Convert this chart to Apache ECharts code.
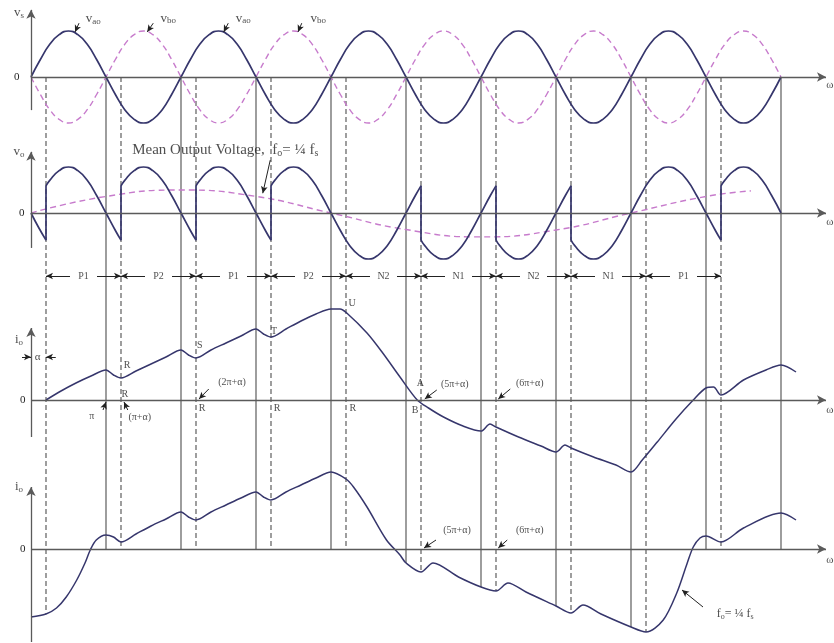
<!DOCTYPE html>
<html>
<head>
<meta charset="utf-8">
<script src="https://cdn.jsdelivr.net/npm/echarts@6/dist/echarts.min.js"></script>
<style>
  html, body { margin: 0; padding: 0; background: #fff; }
  #chart { width: 834px; height: 643px; }
</style>
</head>
<body>
<div id="chart"></div>
<script>
// ---------------------------------------------------------------
// Cycloconverter (single-phase, 4:1 step-down) waveforms.
// All abscissae are ωt expressed in units of π.
// ---------------------------------------------------------------

// supply voltages v_ao and v_bo, sampled every π/8 (normalised to Vm)
const phaseX = [0,0.125,0.25,0.375,0.5,0.625,0.75,0.875,1,1.125,1.25,1.375,1.5,1.625,1.75,1.875,
                2,2.125,2.25,2.375,2.5,2.625,2.75,2.875,3,3.125,3.25,3.375,3.5,3.625,3.75,3.875,
                4,4.125,4.25,4.375,4.5,4.625,4.75,4.875,5,5.125,5.25,5.375,5.5,5.625,5.75,5.875,
                6,6.125,6.25,6.375,6.5,6.625,6.75,6.875,7,7.125,7.25,7.375,7.5,7.625,7.75,7.875,
                8,8.125,8.25,8.375,8.5,8.625,8.75,8.875,9,9.125,9.25,9.375,9.5,9.625,9.75,9.875,10];
const vaoValues = [0,0.38,0.71,0.92,1,0.92,0.71,0.38,0,-0.38,-0.71,-0.92,-1,-0.92,-0.71,-0.38,
                   0,0.38,0.71,0.92,1,0.92,0.71,0.38,0,-0.38,-0.71,-0.92,-1,-0.92,-0.71,-0.38,
                   0,0.38,0.71,0.92,1,0.92,0.71,0.38,0,-0.38,-0.71,-0.92,-1,-0.92,-0.71,-0.38,
                   0,0.38,0.71,0.92,1,0.92,0.71,0.38,0,-0.38,-0.71,-0.92,-1,-0.92,-0.71,-0.38,
                   0,0.38,0.71,0.92,1,0.92,0.71,0.38,0,-0.38,-0.71,-0.92,-1,-0.92,-0.71,-0.38,0];
const vboValues = [0,-0.38,-0.71,-0.92,-1,-0.92,-0.71,-0.38,0,0.38,0.71,0.92,1,0.92,0.71,0.38,
                   0,-0.38,-0.71,-0.92,-1,-0.92,-0.71,-0.38,0,0.38,0.71,0.92,1,0.92,0.71,0.38,
                   0,-0.38,-0.71,-0.92,-1,-0.92,-0.71,-0.38,0,0.38,0.71,0.92,1,0.92,0.71,0.38,
                   0,-0.38,-0.71,-0.92,-1,-0.92,-0.71,-0.38,0,0.38,0.71,0.92,1,0.92,0.71,0.38,
                   0,-0.38,-0.71,-0.92,-1,-0.92,-0.71,-0.38,0,0.38,0.71,0.92,1,0.92,0.71,0.38,0];

// output voltage v_o: continuous pieces between thyristor commutations
const voSegments = [
  [[0,0],[0.1,-0.31],[0.2,-0.59]],
  [[0.2,0.59],[0.25,0.71],[0.375,0.92],[0.5,1],[0.625,0.92],[0.75,0.71],[0.875,0.38],[1,0],[1.125,-0.38],[1.2,-0.59]],
  [[1.2,0.59],[1.25,0.71],[1.375,0.92],[1.5,1],[1.625,0.92],[1.75,0.71],[1.875,0.38],[2,0],[2.125,-0.38],[2.2,-0.59]],
  [[2.2,0.59],[2.25,0.71],[2.375,0.92],[2.5,1],[2.625,0.92],[2.75,0.71],[2.875,0.38],[3,0],[3.125,-0.38],[3.2,-0.59]],
  [[3.2,0.59],[3.25,0.71],[3.375,0.92],[3.5,1],[3.625,0.92],[3.75,0.71],[3.875,0.38],[4,0],[4.125,-0.38],
   [4.25,-0.71],[4.375,-0.92],[4.5,-1],[4.625,-0.92],[4.75,-0.71],[4.875,-0.38],[5,0],[5.125,0.38],[5.2,0.59]],
  [[5.2,-0.59],[5.25,-0.71],[5.375,-0.92],[5.5,-1],[5.625,-0.92],[5.75,-0.71],[5.875,-0.38],[6,0],[6.125,0.38],[6.2,0.59]],
  [[6.2,-0.59],[6.25,-0.71],[6.375,-0.92],[6.5,-1],[6.625,-0.92],[6.75,-0.71],[6.875,-0.38],[7,0],[7.125,0.38],[7.2,0.59]],
  [[7.2,-0.59],[7.25,-0.71],[7.375,-0.92],[7.5,-1],[7.625,-0.92],[7.75,-0.71],[7.875,-0.38],[8,0],[8.125,0.38],
   [8.25,0.71],[8.375,0.92],[8.5,1],[8.625,0.92],[8.75,0.71],[8.875,0.38],[9,0],[9.125,-0.38],[9.2,-0.59]],
  [[9.2,0.59],[9.25,0.71],[9.375,0.92],[9.5,1],[9.625,0.92],[9.75,0.71],[9.875,0.38],[10,0]]
];

// mean (fundamental) output voltage, f_o = f_s / 4
const meanX = [0,1,2,3,4,5,6,7,8,9,9.6];
const meanValues = [0,0.36,0.5,0.36,0,-0.36,-0.52,-0.37,0,0.36,0.48];

// load current, first case (starts at zero at ωt = α)
const io1X = [0.2,0.4,0.6,0.8,1,1.1,1.2,1.4,1.6,1.8,2,2.1,2.2,2.4,2.6,2.8,3,3.1,3.2,3.4,3.6,3.8,4,4.12,
              4.21,4.48,4.69,4.92,5.15,5.3,5.5,5.76,6,6.12,6.2,6.5,6.8,7,7.12,7.2,7.5,7.8,8,8.15,8.35,
              8.6,8.83,9,9.1,9.2,9.5,9.8,10,10.2];
const io1Values = [0,9,17,24,30,25,22,29,36,43,50,45,42,50,57,64,71,66,63,71,79,86,91,91,
                   87,67,47,23,0,-8,-17,-26,-31,-24,-27,-37,-46,-52,-45,-48,-57,-65,-72,-60,-42,
                   -19,0,12,13,5,20,30,35,28];

// load current, steady-state case
const io2X = [0,0.2,0.34,0.47,0.61,0.72,0.79,0.87,1,1.1,1.2,1.4,1.6,1.8,2,2.1,2.2,2.4,2.6,2.8,3,3.1,3.2,
              3.4,3.6,3.8,4,4.2,4.3,4.48,4.74,4.92,5,5.2,5.36,5.7,6,6.2,6.36,6.6,7,7.2,7.36,7.6,8,8.2,
              8.43,8.61,8.75,8.83,8.92,9,9.2,9.5,10,10.2];
const io2Values = [-68,-65,-59,-48,-31,-14,-1,9,14,12,7,15,23,30,37,32,29,37,44,51,57,52,49,
                   57,64,71,77,70,62,42,9,-6,-14,-23,-14,-28,-38,-42,-34,-43,-57,-64,-56,-65,-78,-83,
                   -71,-44,-14,2,11,13,7,21,36,29];

// conduction intervals of the converter groups
const periodNames = ['P1','P2','P1','P2','N2','N1','N2','N1','P1'];
const periodBounds = [0.2,1.2,2.2,3.2,4.2,5.2,6.2,7.2,8.2,9.2];

// guide lines: ωt = kπ (solid) and ωt = kπ + α (dashed)
const guideSolidX = [1,2,3,4,5,6,7,8,9,10];
const guideDashedX = [0.2,1.2,2.2,3.2,4.2,5.2,6.2,7.2,8.2,9.2];

// ---------------------------------------------------------------
// layout
// ---------------------------------------------------------------
const W = 834, H = 643;
const X0 = 31, PI_PX = 75;          // ωt = 0 position and pixels per π
const X_MIN = -0.4, X_MAX = 10.64, AXIS_END = 10.6;
const SERIF = '"Liberation Serif","DejaVu Serif",serif';
const INK = '#222';
const CURVE = '#36366c';
const PINK = '#c77bcc';
const GUIDE = '#4f4f4f';
const AXIS = '#5a5a5a';

const panels = [
  { top: 0,   bottom: 140, zero: 77,  unit: 46, yLo: -0.72, yHi: 1.46, labelMargin: 13 },
  { top: 140, bottom: 290, zero: 213, unit: 46, yLo: -0.76, yHi: 1.33, labelMargin: 18 },
  { top: 290, bottom: 470, zero: 400, unit: 1,  yLo: -37,   yHi: 72,   labelMargin: 19 },
  { top: 470, bottom: H,   zero: 549, unit: 1,  yLo: -93,   yHi: 62,   labelMargin: 19 }
];
// full-height layer for the guide lines (same scale as the last panel)
const overlay = { top: panels[0].zero, bottom: H, zero: panels[3].zero, unit: 1 };
const GUIDE_TOP = overlay.zero - overlay.top;

const layers = panels.concat([overlay]);
const gridLeft = X0 + X_MIN * PI_PX;
const gridRight = W - (X0 + X_MAX * PI_PX);

const grids = layers.map(p => ({
  left: gridLeft, right: gridRight, top: p.top, height: p.bottom - p.top,
  containLabel: false, outerBoundsMode: 'none'
}));
const xAxes = layers.map((p, i) => ({
  type: 'value', gridIndex: i, min: X_MIN, max: X_MAX, show: false
}));
const yAxes = layers.map((p, i) => ({
  type: 'value', gridIndex: i,
  min: -(p.bottom - p.zero) / p.unit,
  max: (p.zero - p.top) / p.unit,
  show: i < panels.length,
  axisLine: { show: false }, axisTick: { show: false }, splitLine: { show: false },
  axisLabel: {
    inside: true, margin: p.labelMargin || 12, customValues: [0],
    showMinLabel: false, showMaxLabel: false,
    formatter: v => (v === 0 ? '0' : ''),
    color: INK, fontFamily: SERIF, fontSize: 11
  }
}));

const pairs = (xs, ys) => xs.map((x, i) => [x, ys[i]]);
const valueAt = (xs, ys, x) => { const k = xs.indexOf(x); return k < 0 ? 0 : ys[k]; };

// ---------------------------------------------------------------
// annotations
// ---------------------------------------------------------------
const RICH = {
  m:  { fontFamily: SERIF, fontSize: 13, color: INK },
  s:  { fontFamily: SERIF, fontSize: 9, color: INK, padding: [6, 0, 0, 0] },
  t:  { fontFamily: SERIF, fontSize: 15, color: INK },
  ts: { fontFamily: SERIF, fontSize: 10, color: INK, padding: [7, 0, 0, 0] },
  f:  { fontFamily: SERIF, fontSize: 12, color: INK },
  fs: { fontFamily: SERIF, fontSize: 8, color: INK, padding: [6, 0, 0, 0] }
};

const notes = [
  // panel 1
  [
    { at: [-0.16, 1.39], text: '{m|v}{s|s}' },
    { at: [0.83, 1.26], text: '{m|v}{s|ao}' },
    { at: [1.83, 1.28], text: '{m|v}{s|bo}' },
    { at: [2.83, 1.28], text: '{m|v}{s|ao}' },
    { at: [3.83, 1.28], text: '{m|v}{s|bo}' },
    { at: [10.65, -0.17], text: 'ω' }
  ],
  // panel 2
  [
    { at: [-0.16, 1.33], text: '{m|v}{s|o}' },
    { at: [2.59, 1.37], text: '{t|Mean Output Voltage,  f}{ts|o}{t|= ¼ f}{ts|s}' },
    { at: [10.65, -0.2], text: 'ω' }
  ].concat(periodNames.map((n, i) => ({
    at: [(periodBounds[i] + periodBounds[i + 1]) / 2, -1.37], text: n, size: 10
  }))),
  // panel 3
  [
    { at: [-0.16, 60], text: '{m|i}{s|o}' },
    { at: [0.09, 43], text: 'α', size: 11 },
    { at: [1.28, 35], text: 'R', size: 10 },
    { at: [1.25, 6], text: 'R', size: 10 },
    { at: [0.81, -16], text: 'π', size: 10 },
    { at: [1.45, -17], text: '(π+α)', size: 10 },
    { at: [2.25, 55], text: 'S', size: 10 },
    { at: [2.68, 18], text: '(2π+α)', size: 10 },
    { at: [2.28, -8], text: 'R', size: 10 },
    { at: [3.24, 69], text: 'T', size: 10 },
    { at: [3.28, -8], text: 'R', size: 10 },
    { at: [4.28, 97], text: 'U', size: 10 },
    { at: [4.29, -8], text: 'R', size: 10 },
    { at: [5.12, -10], text: 'B', size: 10 },
    { at: [5.19, 17], text: 'A', size: 10 },
    { at: [5.65, 16], text: '(5π+α)', size: 10 },
    { at: [6.65, 17], text: '(6π+α)', size: 10 },
    { at: [10.65, -10], text: 'ω' }
  ],
  // panel 4
  [
    { at: [-0.16, 62], text: '{m|i}{s|o}' },
    { at: [5.68, 19], text: '(5π+α)', size: 10 },
    { at: [6.65, 19], text: '(6π+α)', size: 10 },
    { at: [9.39, -65], text: '{f|f}{fs|o}{f|= ¼ f}{fs|s}' },
    { at: [10.65, -11], text: 'ω' }
  ]
];

const pointers = [
  [ [[0.64, 1.17], [0.587, 0.98]], [[1.63, 1.17], [1.55, 0.98]],
    [[2.63, 1.17], [2.57, 0.98]], [[3.61, 1.17], [3.56, 0.98]] ],
  [ [[3.19, 1.15], [3.09, 0.43]] ],
  [ [[-0.12, 43], [0, 43]], [[0.33, 43], [0.2, 43]],
    [[0.96, -10], [1.0, -2]], [[1.29, -10], [1.24, -2]],
    [[2.37, 11], [2.24, 1]], [[5.41, 10], [5.25, 1]], [[6.39, 11], [6.23, 1]] ],
  [ [[5.4, 9], [5.24, 1]], [[6.35, 9], [6.23, 1]], [[8.96, -58], [8.68, -41]] ]
];
// double-headed span arrows for the group intervals
for (let i = 0; i < periodNames.length; i++) {
  const a = periodBounds[i], b = periodBounds[i + 1], m = (a + b) / 2, y = -1.37;
  pointers[1].push([[m - 0.18, y], [a, y]], [[m + 0.18, y], [b, y]]);
}

function annotationSeries(gi) {
  const p = panels[gi];
  const axisStyle = { color: AXIS, width: 1.3, type: 'solid' };
  const axisLines = [
    [{ coord: [0, 0] }, { coord: [AXIS_END, 0], symbolSize: [7, 9] }],
    [{ coord: [0, p.yLo] }, { coord: [0, p.yHi], symbolSize: [7, 9] }]
  ].map(d => { d[0].lineStyle = axisStyle; return d; });
  const arrowLines = pointers[gi].map(([a, b]) => [{ coord: a }, { coord: b }]);
  return {
    type: 'scatter', xAxisIndex: gi, yAxisIndex: gi, silent: true, clip: false,
    symbolSize: 1, itemStyle: { color: 'rgba(0,0,0,0)' }, z: 6,
    label: { show: true, position: 'inside', color: INK, fontFamily: SERIF, fontSize: 11, rich: RICH },
    data: notes[gi].map(n => ({
      value: n.at,
      label: { fontSize: n.size || 11, formatter: () => n.text }
    })),
    markLine: {
      silent: true, animation: false, symbol: ['none', 'arrow'], symbolSize: [5, 7],
      label: { show: false }, emphasis: { disabled: true },
      lineStyle: { color: '#222', width: 1, type: 'solid' },
      data: axisLines.concat(arrowLines)
    }
  };
}

// ---------------------------------------------------------------
// series
// ---------------------------------------------------------------
const GAP = '-';
const guideData = (xs) => {
  const out = [];
  xs.forEach(x => {
    const bottom = Math.min(0, valueAt(io2X, io2Values, x));
    out.push([x, GUIDE_TOP], [x, bottom], [x, GAP]);
  });
  return out;
};

const voData = [];
voSegments.forEach((seg, i) => {
  if (i > 0) voData.push([seg[0][0], GAP]);
  seg.forEach(pt => voData.push(pt));
});
const voJumps = [];
for (let i = 0; i + 1 < voSegments.length; i++) {
  const last = voSegments[i][voSegments[i].length - 1];
  const first = voSegments[i + 1][0];
  voJumps.push(last, first, [first[0], GAP]);
}

const line = (gi, data, style, extra) => Object.assign({
  type: 'line', xAxisIndex: gi, yAxisIndex: gi, data, symbol: 'none',
  silent: true, animation: false, clip: false, connectNulls: false,
  lineStyle: style, z: 3
}, extra || {});

const series = [
  line(4, guideData(guideSolidX), { color: GUIDE, width: 1.1 }, { z: 1 }),
  line(4, guideData(guideDashedX), { color: GUIDE, width: 1.1, type: [5, 3] }, { z: 1 }),

  line(0, pairs(phaseX, vboValues), { color: PINK, width: 1.4, type: [6, 4] }, { smooth: true }),
  line(0, pairs(phaseX, vaoValues), { color: CURVE, width: 1.7 }, { smooth: true }),

  line(1, pairs(meanX, meanValues), { color: PINK, width: 1.4, type: [6, 4] }, { smooth: true }),
  line(1, voData, { color: CURVE, width: 1.7 }, { smooth: true }),
  line(1, voJumps, { color: CURVE, width: 1.7 }),

  line(2, pairs(io1X, io1Values), { color: CURVE, width: 1.5 }, { smooth: 0.3 }),
  line(3, pairs(io2X, io2Values), { color: CURVE, width: 1.5 }, { smooth: 0.3 })
].concat(panels.map((p, i) => annotationSeries(i)));

const chart = echarts.init(document.getElementById('chart'), null, { renderer: 'canvas' });
chart.setOption({
  animation: false,
  backgroundColor: '#fff',
  grid: grids,
  xAxis: xAxes,
  yAxis: yAxes,
  series
});
</script>
</body>
</html>
